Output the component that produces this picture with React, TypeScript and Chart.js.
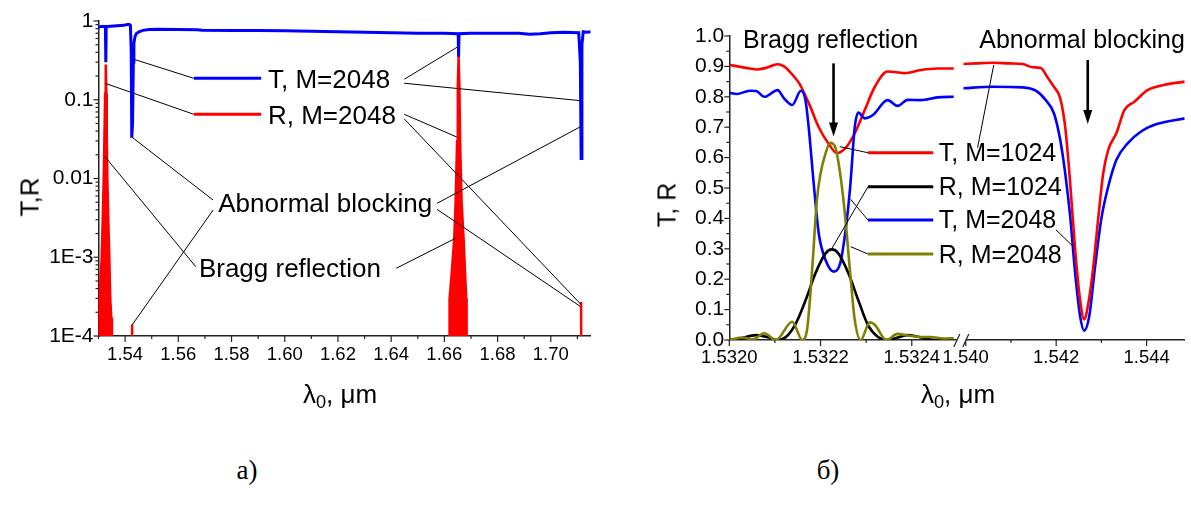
import React, { useEffect, useRef } from "react";
import { Chart, registerables } from "chart.js";

Chart.register(...registerables);

const SANS = '"Liberation Sans", Arial, Helvetica, sans-serif';
const SERIF = '"Liberation Serif", "Times New Roman", serif';
const BLUE = "#0000ff";
const RED = "#ff0000";
const OLIVE = "#808000";
const BLACK = "#000000";
const AXIS = "#222222";

// ================= Panel a): overview, logarithmic T and R =================
const LEFT_T_LAMBDA = [
  1.53, 1.5312, 1.5322, 1.5326, 1.53275, 1.5329, 1.5345, 1.537, 1.5395, 1.5408,
  1.5416, 1.542, 1.5423, 1.5425, 1.5428, 1.5431, 1.5433, 1.5437, 1.5442, 1.5452,
  1.5467, 1.549, 1.553, 1.56, 1.567, 1.569, 1.58, 1.59, 1.6, 1.61,
  1.62, 1.63, 1.64, 1.65, 1.66, 1.6652, 1.66535, 1.6655, 1.67, 1.68,
  1.688, 1.692, 1.696, 1.7, 1.705, 1.7105, 1.7111, 1.7114, 1.7117, 1.7122,
  1.7135, 1.715,
];
const LEFT_T_VALUE = [
  0.84, 0.85, 0.85, 0.85, 0.3, 0.85, 0.86, 0.87, 0.88, 0.9,
  0.9, 0.88, 0.4, 0.033, 0.05, 0.3, 0.52, 0.63, 0.69, 0.73,
  0.76, 0.78, 0.785, 0.78, 0.775, 0.765, 0.76, 0.755, 0.75, 0.74,
  0.73, 0.72, 0.71, 0.7, 0.7, 0.69, 0.35, 0.69, 0.7, 0.7,
  0.7, 0.68, 0.69, 0.71, 0.72, 0.71, 0.3, 0.018, 0.5, 0.73,
  0.72, 0.73,
];
const LEFT_R_LAMBDA = [
  1.529849, 1.530075, 1.530452, 1.531206, 1.531583, 1.53196, 1.532262, 1.532488, 1.532714, 1.53294,
  1.533091, 1.533317, 1.533694, 1.534071, 1.534411, 1.534788, 1.535051,
  1.54263, 1.54263, 1.54263,
  1.661769, 1.661957, 1.662711, 1.663691, 1.664219, 1.664785, 1.665048, 1.66535, 1.665652, 1.665916,
  1.666481, 1.667235, 1.667801, 1.668215, 1.668366,
  1.7114, 1.7114, 1.7114,
];
const LEFT_R_VALUE = [
  8e-5, 2e-4, 3.5e-4, 1e-3, 3e-3, 0.01, 0.04, 0.12, 0.28, 0.12,
  0.04, 0.01, 3e-3, 1e-3, 3e-4, 1.7e-4, 8e-5,
  8e-5, 1.4e-4, 8e-5,
  8e-5, 3e-4, 6e-4, 1.7e-3, 5e-3, 0.03, 0.15, 0.35, 0.15, 0.03,
  5e-3, 1.7e-3, 6e-4, 3e-4, 8e-5,
  8e-5, 2.7e-4, 8e-5,
];
const LEFT_X_MAJOR = [1.54, 1.56, 1.58, 1.6, 1.62, 1.64, 1.66, 1.68, 1.7];
const LEFT_X_MINOR = [1.53, 1.55, 1.57, 1.59, 1.61, 1.63, 1.65, 1.67, 1.69, 1.71];
const LEFT_Y_MAJOR = [1e-4, 1e-3, 1e-2, 1e-1, 1];
const LEFT_Y_LABELS = ["1E-4", "1E-3", "0.01", "0.1", "1"];
const LEFT_Y_MINOR = [
  2e-4, 3e-4, 4e-4, 5e-4, 6e-4, 7e-4, 8e-4, 9e-4,
  2e-3, 3e-3, 4e-3, 5e-3, 6e-3, 7e-3, 8e-3, 9e-3,
  0.02, 0.03, 0.04, 0.05, 0.06, 0.07, 0.08, 0.09,
  0.2, 0.3, 0.4, 0.5, 0.6, 0.7, 0.8, 0.9,
];

// ================= Panel б): zoom on Bragg peak and abnormal blocking =================
const R_T1024_S1_LAMBDA = [
  1.532, 1.532045, 1.53206, 1.53208, 1.532106, 1.53212, 1.532131, 1.532153, 1.532174, 1.532196,
  1.532218, 1.532236, 1.532254, 1.532275, 1.532297, 1.532319, 1.532347, 1.532384, 1.53242, 1.532456, 1.532492,
];
const R_T1024_S1_VALUE = [
  0.905, 0.893, 0.89, 0.895, 0.907, 0.9, 0.885, 0.845, 0.78, 0.7,
  0.645, 0.615, 0.63, 0.68, 0.757, 0.833, 0.883, 0.878, 0.888, 0.893, 0.893,
];
const R_T2048_S1_LAMBDA = [
  1.532, 1.532016, 1.532045, 1.532059, 1.532077, 1.532106, 1.53212, 1.532138, 1.532157, 1.532167,
  1.532174, 1.532185, 1.532196, 1.532211, 1.532229, 1.532243, 1.532254, 1.532265, 1.532275, 1.532283,
  1.532297, 1.532315, 1.532347, 1.532369, 1.532391, 1.53242, 1.532456, 1.532492,
];
const R_T2048_S1_VALUE = [
  0.813, 0.809, 0.82, 0.819, 0.8, 0.822, 0.795, 0.773, 0.82, 0.789,
  0.7, 0.515, 0.351, 0.263, 0.225, 0.252, 0.351, 0.504, 0.7, 0.748,
  0.729, 0.74, 0.789, 0.77, 0.79, 0.789, 0.798, 0.8,
];
const R_R1024_S1_LAMBDA = [
  1.532, 1.532023, 1.532059, 1.532088, 1.532104, 1.532124, 1.532146, 1.532167, 1.532189, 1.532211,
  1.532225, 1.532239, 1.532261, 1.532283, 1.532304, 1.532326, 1.532346, 1.532369, 1.532391, 1.53242,
  1.532445, 1.532477, 1.532492,
];
const R_R1024_S1_VALUE = [
  0, 0.005, 0.016, 0.008, 0, 0.01, 0.055, 0.13, 0.22, 0.285,
  0.298, 0.285, 0.22, 0.13, 0.049, 0.01, 0, 0.008, 0.016, 0.008,
  0.001, 0, 0,
];
const R_R2048_S1_LAMBDA = [
  1.532, 1.53203, 1.532052, 1.532077, 1.532102, 1.532138, 1.53216, 1.532171, 1.532182, 1.532192,
  1.5322, 1.532211, 1.532221, 1.532232, 1.532243, 1.532254, 1.532265, 1.532275, 1.532288, 1.532308,
  1.532319, 1.532344, 1.532369, 1.532391, 1.53242, 1.532441, 1.53247, 1.532492,
];
const R_R2048_S1_VALUE = [
  0, 0.008, 0.002, 0.022, 0, 0.06, 0, 0.04, 0.24, 0.46,
  0.548, 0.614, 0.649, 0.636, 0.548, 0.406, 0.22, 0.066, 0, 0.058,
  0.05, 0, 0.02, 0.015, 0.01, 0.01, 0.005, 0.006,
];
const R_T1024_S2_LAMBDA = [
  1.53995, 1.54024, 1.5406, 1.54097, 1.54126, 1.54148, 1.54166, 1.5418, 1.54195, 1.54209,
  1.5422, 1.54231, 1.54242, 1.54253, 1.54262, 1.54271, 1.54282, 1.54293, 1.54304, 1.54315,
  1.54333, 1.54351, 1.54373, 1.54402, 1.54438, 1.544842,
];
const R_T1024_S2_VALUE = [
  0.908, 0.91, 0.912, 0.91, 0.908, 0.897, 0.895, 0.866, 0.833, 0.795,
  0.7, 0.515, 0.296, 0.13, 0.068, 0.12, 0.24, 0.4, 0.548, 0.625,
  0.68, 0.757, 0.784, 0.822, 0.839, 0.85,
];
const R_T2048_S2_LAMBDA = [
  1.53995, 1.5406, 1.54126, 1.54155, 1.54177, 1.54195, 1.54209, 1.5422, 1.54231, 1.54242,
  1.54253, 1.54262, 1.54273, 1.54286, 1.543, 1.54315, 1.54333, 1.54358, 1.54387, 1.54424, 1.544842,
];
const R_T2048_S2_VALUE = [
  0.828, 0.833, 0.831, 0.82, 0.789, 0.746, 0.658, 0.548, 0.406, 0.219,
  0.077, 0.031, 0.077, 0.241, 0.4, 0.504, 0.592, 0.647, 0.685, 0.711, 0.729,
];
const R_X1_MAJOR = [1.532, 1.5322, 1.5324];
const R_X1_MINOR = [1.5321, 1.5323];
const R_X2_MAJOR = [1.54, 1.542, 1.544];
const R_X2_MINOR = [1.541, 1.543];
const R_Y_MAJOR = [0, 0.1, 0.2, 0.3, 0.4, 0.5, 0.6, 0.7, 0.8, 0.9, 1.0];
const R_Y_MINOR = [0.05, 0.15, 0.25, 0.35, 0.45, 0.55, 0.65, 0.75, 0.85, 0.95];

// ================= Annotations (anchored in data coordinates) =================
type Anchor = [string, number, number];
type Overlay = {
  ticks: { axis: string; majors: number[]; minors: number[]; majorLen: number; minorLen: number }[];
  keys: { from: Anchor; to: Anchor; color: string }[];
  leaders: [Anchor, Anchor][];
  labels: { at: Anchor; text: string; size: number }[];
  arrows: { from: Anchor; to: Anchor }[];
  breakAfter?: string;
};

const LEFT_OVERLAY: Overlay = {
  ticks: [
    { axis: "x", majors: LEFT_X_MAJOR, minors: LEFT_X_MINOR, majorLen: 6, minorLen: 3 },
    { axis: "y", majors: LEFT_Y_MAJOR, minors: LEFT_Y_MINOR, majorLen: 5, minorLen: 3 },
  ],
  keys: [
    { from: ["x", 1.56585, 0.187], to: ["x", 1.59114, 0.187], color: BLUE },
    { from: ["x", 1.56585, 0.0653], to: ["x", 1.59114, 0.0653], color: RED },
  ],
  leaders: [
    [["x", 1.54334, 0.326], ["x", 1.56585, 0.187]],
    [["x", 1.53245, 0.162], ["x", 1.56585, 0.0653]],
    [["x", 1.64493, 0.182], ["x", 1.66475, 0.464]],
    [["x", 1.64493, 0.162], ["x", 1.7112, 0.0973]],
    [["x", 1.64493, 0.0653], ["x", 1.6647, 0.0336]],
    [["x", 1.64493, 0.057], ["x", 1.7112, 2.55e-4]],
    [["x", 1.57308, 5.33e-3], ["x", 1.54263, 0.0334]],
    [["x", 1.57308, 3.98e-3], ["x", 1.54263, 1.38e-4]],
    [["x", 1.65725, 4.84e-3], ["x", 1.7112, 0.0455]],
    [["x", 1.65725, 4.06e-3], ["x", 1.7112, 2.36e-4]],
    [["x", 1.56656, 7.59e-4], ["x", 1.53245, 0.0189]],
    [["x", 1.64191, 7.24e-4], ["x", 1.66419, 1.74e-3]],
  ],
  labels: [
    { at: ["x", 1.5937, 0.1397], text: "T, M=2048", size: 26 },
    { at: ["x", 1.5937, 0.0488], text: "R, M=2048", size: 26 },
    { at: ["x", 1.57501, 3.79e-3], text: "Abnormal blocking", size: 26 },
    { at: ["x", 1.56773, 5.66e-4], text: "Bragg reflection", size: 26 },
  ],
  arrows: [],
};

const RIGHT_OVERLAY: Overlay = {
  ticks: [
    { axis: "x1", majors: R_X1_MAJOR, minors: R_X1_MINOR, majorLen: 6, minorLen: 3 },
    { axis: "x2", majors: R_X2_MAJOR, minors: R_X2_MINOR, majorLen: 6, minorLen: 3 },
    { axis: "y", majors: R_Y_MAJOR, minors: R_Y_MINOR, majorLen: 5, minorLen: 3 },
  ],
  keys: [
    { from: ["x1", 1.532304, 0.616], to: ["x1", 1.532447, 0.616], color: RED },
    { from: ["x1", 1.532304, 0.504], to: ["x1", 1.532447, 0.504], color: BLACK },
    { from: ["x1", 1.532304, 0.3947], to: ["x1", 1.532447, 0.3947], color: BLUE },
    { from: ["x1", 1.532304, 0.2829], to: ["x1", 1.532447, 0.2829], color: OLIVE },
  ],
  leaders: [
    [["x1", 1.532304, 0.616], ["x1", 1.532242, 0.636]],
    [["x2", 1.540262, 0.6326], ["x2", 1.540619, 0.9046]],
    [["x1", 1.532304, 0.504], ["x1", 1.532225, 0.3016]],
    [["x1", 1.532304, 0.3947], ["x1", 1.532266, 0.4628]],
    [["x1", 1.532304, 0.2829], ["x1", 1.532266, 0.3069]],
    [["x2", 1.541996, 0.362], ["x2", 1.542369, 0.309]],
  ],
  labels: [
    { at: ["x1", 1.5320303, 0.9595], text: "Bragg reflection", size: 25 },
    { at: ["x2", 1.5402988, 0.9595], text: "Abnormal blocking", size: 25 },
    { at: ["x1", 1.5324592, 0.5898], text: "T, M=1024", size: 25 },
    { at: ["x1", 1.5324592, 0.477], text: "R, M=1024", size: 25 },
    { at: ["x1", 1.5324592, 0.3674], text: "T, M=2048", size: 25 },
    { at: ["x1", 1.5324592, 0.2543], text: "R, M=2048", size: 25 },
  ],
  arrows: [
    { from: ["x1", 1.5322285, 0.91], to: ["x1", 1.5322285, 0.669] },
    { from: ["x2", 1.542698, 0.921], to: ["x2", 1.542698, 0.7105] },
  ],
  breakAfter: "x1",
};

function makeOverlay(spec: Overlay) {
  return {
    id: "overlay",
    afterDraw(chart: any) {
      const ctx: CanvasRenderingContext2D = chart.ctx;
      const ys = chart.scales.y;
      const P = (a: Anchor) => [chart.scales[a[0]].getPixelForValue(a[1]), ys.getPixelForValue(a[2])];
      ctx.save();
      // tick marks (major / minor)
      ctx.strokeStyle = AXIS;
      ctx.lineWidth = 1.2;
      for (const t of spec.ticks) {
        const s = chart.scales[t.axis];
        const draw = (v: number, len: number) => {
          const p = s.getPixelForValue(v);
          ctx.beginPath();
          if (s.isHorizontal()) {
            ctx.moveTo(p, s.top);
            ctx.lineTo(p, s.top + len);
          } else {
            ctx.moveTo(s.right, p);
            ctx.lineTo(s.right - len, p);
          }
          ctx.stroke();
        };
        t.majors.forEach((v) => draw(v, t.majorLen));
        t.minors.forEach((v) => draw(v, t.minorLen));
      }
      // axis break
      if (spec.breakAfter) {
        const s = chart.scales[spec.breakAfter];
        const xr = s.right;
        const yb = s.top;
        ctx.fillStyle = "#ffffff";
        ctx.fillRect(xr - 3, yb - 2, 9, 4);
        ctx.lineWidth = 1.2;
        ctx.beginPath();
        ctx.moveTo(xr - 6, yb + 7);
        ctx.lineTo(xr + 0, yb - 6);
        ctx.moveTo(xr + 3, yb + 7);
        ctx.lineTo(xr + 9, yb - 6);
        ctx.stroke();
      }
      // leader lines
      ctx.strokeStyle = BLACK;
      ctx.lineWidth = 1;
      for (const [a, b] of spec.leaders) {
        const p = P(a);
        const q = P(b);
        ctx.beginPath();
        ctx.moveTo(p[0], p[1]);
        ctx.lineTo(q[0], q[1]);
        ctx.stroke();
      }
      // key samples
      ctx.lineWidth = 3;
      for (const k of spec.keys) {
        const p = P(k.from);
        const q = P(k.to);
        ctx.strokeStyle = k.color;
        ctx.beginPath();
        ctx.moveTo(p[0], p[1]);
        ctx.lineTo(q[0], q[1]);
        ctx.stroke();
      }
      // labels
      ctx.fillStyle = BLACK;
      ctx.textAlign = "left";
      ctx.textBaseline = "alphabetic";
      for (const l of spec.labels) {
        const p = P(l.at);
        ctx.font = `${l.size}px ${SANS}`;
        ctx.fillText(l.text, p[0], p[1]);
      }
      // arrows
      for (const a of spec.arrows) {
        const p = P(a.from);
        const q = P(a.to);
        ctx.strokeStyle = BLACK;
        ctx.lineWidth = 2.6;
        ctx.beginPath();
        ctx.moveTo(p[0], p[1]);
        ctx.lineTo(q[0], q[1] - 10);
        ctx.stroke();
        ctx.beginPath();
        ctx.moveTo(q[0], q[1]);
        ctx.lineTo(q[0] - 4.5, q[1] - 14);
        ctx.lineTo(q[0] + 4.5, q[1] - 14);
        ctx.closePath();
        ctx.fill();
      }
      ctx.restore();
    },
  };
}

const zip = (xs: number[], ys: number[]) => xs.map((x, i) => ({ x, y: ys[i] }));

const tickFont = (size: number) => ({ family: SANS, size });

function leftConfig(): any {
  return {
    type: "scatter",
    data: {
      datasets: [
        {
          data: zip(LEFT_R_LAMBDA, LEFT_R_VALUE),
          showLine: true,
          borderColor: RED,
          backgroundColor: RED,
          borderWidth: 2.5,
          pointRadius: 0,
          fill: "start",
          tension: 0,
          order: 0,
        },
        {
          data: zip(LEFT_T_LAMBDA, LEFT_T_VALUE),
          showLine: true,
          borderColor: BLUE,
          borderWidth: 3,
          pointRadius: 0,
          fill: false,
          tension: 0,
          order: 1,
        },
      ],
    },
    options: {
      responsive: false,
      animation: false,
      devicePixelRatio: 1,
      events: [],
      layout: { padding: { left: 0, top: 21, right: 9.3, bottom: 0 } },
      plugins: { legend: { display: false }, tooltip: { enabled: false } },
      scales: {
        x: {
          type: "linear",
          min: 1.53,
          max: 1.715,
          afterBuildTicks: (s: any) => {
            s.ticks = LEFT_X_MAJOR.map((v) => ({ value: v }));
          },
          afterFit: (s: any) => {
            s.height = 44;
          },
          grid: { display: false, drawTicks: false },
          border: { display: true, color: AXIS, width: 1.5 },
          ticks: {
            autoSkip: false,
            maxRotation: 0,
            padding: 8,
            color: BLACK,
            font: tickFont(18.5),
            callback: (v: any) => Number(v).toFixed(2),
          },
        },
        y: {
          type: "logarithmic",
          min: 1e-4,
          max: 1,
          afterBuildTicks: (s: any) => {
            s.ticks = LEFT_Y_MAJOR.map((v) => ({ value: v, major: true }));
          },
          afterFit: (s: any) => {
            s.width = 98.5;
          },
          grid: { display: false, drawTicks: false },
          border: { display: true, color: AXIS, width: 1.5 },
          ticks: {
            autoSkip: false,
            padding: 5,
            color: BLACK,
            font: tickFont(21),
            callback: (v: any) => {
              const i = LEFT_Y_MAJOR.indexOf(Number(v));
              return i >= 0 ? LEFT_Y_LABELS[i] : "";
            },
          },
        },
      },
    },
    plugins: [makeOverlay(LEFT_OVERLAY)],
  };
}

function rightConfig(): any {
  const line = (xs: number[], ys: number[], color: string, axis: string, order: number) => ({
    data: zip(xs, ys),
    xAxisID: axis,
    yAxisID: "y",
    showLine: true,
    borderColor: color,
    borderWidth: 2.6,
    pointRadius: 0,
    fill: false,
    cubicInterpolationMode: "monotone",
    order,
  });
  const xAxis = (min: number, max: number, weight: number, majors: number[], digits: number) => ({
    type: "linear",
    position: "bottom",
    stack: "xb",
    stackWeight: weight,
    min,
    max,
    afterBuildTicks: (s: any) => {
      s.ticks = majors.map((v) => ({ value: v }));
    },
    afterFit: (s: any) => {
      s.height = 40;
    },
    grid: { display: false, drawTicks: false },
    border: { display: true, color: AXIS, width: 1.5 },
    ticks: {
      autoSkip: false,
      maxRotation: 0,
      padding: 7,
      color: BLACK,
      font: tickFont(18.5),
      callback: (v: any) => Number(v).toFixed(digits),
    },
  });
  return {
    type: "scatter",
    data: {
      datasets: [
        line(R_R2048_S1_LAMBDA, R_R2048_S1_VALUE, OLIVE, "x1", 0),
        line(R_R1024_S1_LAMBDA, R_R1024_S1_VALUE, BLACK, "x1", 1),
        line(R_T2048_S1_LAMBDA, R_T2048_S1_VALUE, BLUE, "x1", 2),
        line(R_T1024_S1_LAMBDA, R_T1024_S1_VALUE, RED, "x1", 3),
        line(R_T1024_S2_LAMBDA, R_T1024_S2_VALUE, RED, "x2", 4),
        line(R_T2048_S2_LAMBDA, R_T2048_S2_VALUE, BLUE, "x2", 5),
      ],
    },
    options: {
      responsive: false,
      animation: false,
      devicePixelRatio: 1,
      events: [],
      layout: { padding: { left: 0, top: 36, right: 0, bottom: 0 } },
      plugins: { legend: { display: false }, tooltip: { enabled: false } },
      scales: {
        x1: xAxis(1.532, 1.5325053, 233.7, R_X1_MAJOR, 4),
        x2: xAxis(1.539869, 1.544842, 228, R_X2_MAJOR, 3),
        y: {
          type: "linear",
          position: "left",
          min: 0,
          max: 1,
          afterBuildTicks: (s: any) => {
            s.ticks = R_Y_MAJOR.map((v) => ({ value: v }));
          },
          afterFit: (s: any) => {
            s.width = 134.3;
          },
          grid: { display: false, drawTicks: false },
          border: { display: true, color: AXIS, width: 1.5 },
          ticks: {
            autoSkip: false,
            padding: 5,
            color: BLACK,
            font: tickFont(21),
            callback: (v: any) => Number(v).toFixed(1),
          },
        },
      },
    },
    plugins: [makeOverlay(RIGHT_OVERLAY)],
  };
}

const abs = (x: number, y: number, extra: React.CSSProperties = {}): React.CSSProperties => ({
  position: "absolute",
  left: x,
  top: y,
  transform: "translate(-50%, -50%)",
  whiteSpace: "nowrap",
  lineHeight: 1,
  color: BLACK,
  ...extra,
});

const Lambda0 = () => (
  <span>
    λ<span style={{ fontSize: "0.7em", position: "relative", top: "0.3em" }}>0</span>, μm
  </span>
);

export default function App() {
  const leftRef = useRef<HTMLCanvasElement | null>(null);
  const rightRef = useRef<HTMLCanvasElement | null>(null);

  useEffect(() => {
    document.body.style.margin = "0";
    Chart.defaults.font.family = SANS;
    const c1 = new Chart(leftRef.current as HTMLCanvasElement, leftConfig());
    const c2 = new Chart(rightRef.current as HTMLCanvasElement, rightConfig());
    return () => {
      c1.destroy();
      c2.destroy();
    };
  }, []);

  return (
    <div style={{ position: "absolute", left: 0, top: 0, width: 1191, height: 510, background: "#fff", overflow: "hidden" }}>
      <canvas ref={leftRef} width={600} height={380} style={{ position: "absolute", left: 0, top: 0 }} />
      <canvas ref={rightRef} width={596} height={380} style={{ position: "absolute", left: 595, top: 0 }} />
      <div style={abs(340, 394, { font: `26px ${SANS}` })}>
        <Lambda0 />
      </div>
      <div style={abs(958, 394, { font: `26px ${SANS}` })}>
        <Lambda0 />
      </div>
      <div style={abs(30, 197, { font: `26px ${SANS}`, transform: "translate(-50%, -50%) rotate(-90deg)" })}>T,R</div>
      <div style={abs(667, 205, { font: `25px ${SANS}`, transform: "translate(-50%, -50%) rotate(-90deg)" })}>T, R</div>
      <div style={abs(247, 470, { font: `27px ${SERIF}` })}>а)</div>
      <div style={abs(828, 470, { font: `27px ${SERIF}` })}>б)</div>
    </div>
  );
}
